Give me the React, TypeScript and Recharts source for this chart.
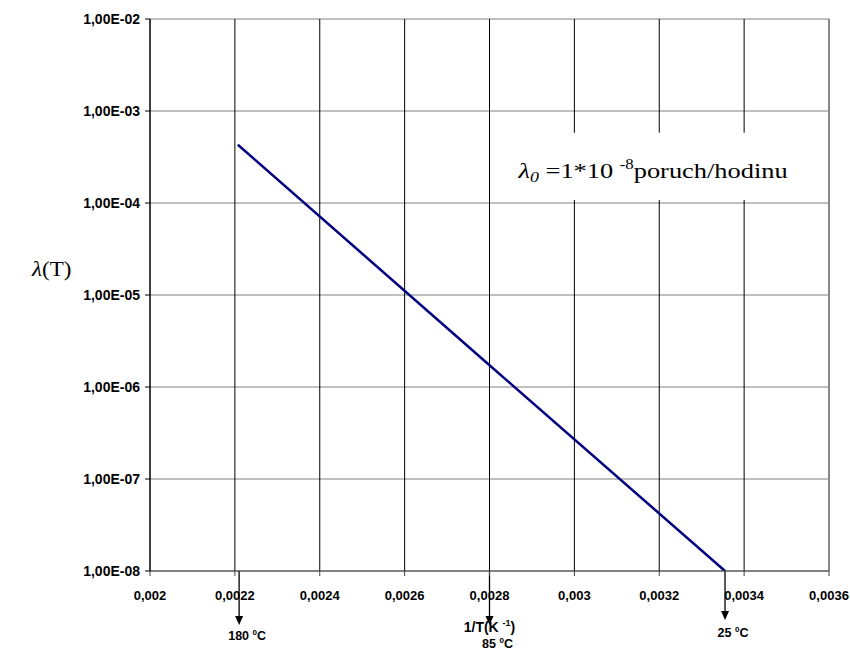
import React from 'react';
import {
  LineChart,
  Line,
  XAxis,
  YAxis,
  CartesianGrid,
  ReferenceArea,
  ReferenceLine,
} from 'recharts';

// ---- data ----
const invT = [0.002207, 0.002792, 0.003355]; // 1/T (K^-1)
const lambdaT = [4.3e-4, 1.86e-6, 1e-8]; // failure rate
const xTicks = [0.002, 0.0022, 0.0024, 0.0026, 0.0028, 0.003, 0.0032, 0.0034, 0.0036];
const yTicks = [1e-8, 1e-7, 1e-6, 1e-5, 1e-4, 1e-3, 1e-2];
const yTickLabels = ['1,00E-08', '1,00E-07', '1,00E-06', '1,00E-05', '1,00E-04', '1,00E-03', '1,00E-02'];
const markerX = [0.00221, 0.0028, 0.003355];
const markerTemps = ['180', '85', '25'];
const annotationBoxX = [0.00284, 0.00361];
const annotationBoxY = [1.08e-4, 5.8e-4];

const data = invT.map((x, i) => ({ x, y: lambdaT[i] }));

// ---- layout / style ----
const SANS = 'Arial, "Liberation Sans", sans-serif';
const SERIF = '"Times New Roman", "Liberation Serif", serif';
const markerLayout = [
  { tip: 54, base: 69 },
  { tip: 54, base: 77 },
  { tip: 49, base: 66 },
];

const xFmt = (v: number) => String(v).replace('.', ',');
const yFmt = (v: number) => {
  const i = yTicks.findIndex((t) => Math.abs(Math.log10(t) - Math.log10(v)) < 1e-6);
  return i >= 0 ? yTickLabels[i] : '';
};

const arrowShape = (i: number) => (props: any) => {
  const { x1, y1, y2 } = props;
  const bottom = Math.max(y1, y2);
  const L = markerLayout[i];
  const tip = bottom + L.tip;
  return (
    <g>
      <line x1={x1} y1={bottom} x2={x1} y2={tip - 8} stroke="#000" strokeWidth={1.3} />
      <polygon points={`${x1 - 4},${tip - 9} ${x1 + 4},${tip - 9} ${x1},${tip}`} fill="#000" />
      <text
        x={x1 + 8}
        y={bottom + L.base}
        textAnchor="middle"
        fontFamily={SANS}
        fontWeight="bold"
        fontSize={12.5}
        fill="#000"
      >
        {markerTemps[i] + ' '}
        <tspan fontSize={8} dy={-5}>0</tspan>
        <tspan dy={5}>C</tspan>
      </text>
    </g>
  );
};

const annotation = (props: any) => {
  const vb = props.viewBox || {};
  const x = (vb.x ?? 0) + 12;
  const y = (vb.y ?? 0) + 45;
  return (
    <text
      transform={`translate(${x},${y}) scale(1.2,1)`}
      x={0}
      y={0}
      fontFamily={SERIF}
      fontSize={22}
      fill="#000"
    >
      <tspan fontStyle="italic">λ</tspan>
      <tspan fontStyle="italic" fontSize={15} dy={4}>0</tspan>
      <tspan dy={-4}>{' =1*10 '}</tspan>
      <tspan fontSize={14} dy={-9}>-8</tspan>
      <tspan dy={9}>poruch/hodinu</tspan>
    </text>
  );
};

const yLabel = (props: any) => {
  const vb = props.viewBox || {};
  const x = (vb.x ?? 0) + 32;
  const y = (vb.y ?? 0) + 257;
  return (
    <text transform={`translate(${x},${y}) scale(1.15,1)`} x={0} y={0} fontFamily={SERIF} fontSize={20} fill="#000">
      <tspan fontStyle="italic">λ</tspan>
      <tspan>(T)</tspan>
    </text>
  );
};

const xLabel = (props: any) => {
  const vb = props.viewBox || {};
  const cx = (vb.x ?? 0) + (vb.width ?? 0) / 2;
  const y = (vb.y ?? 0) + 61;
  return (
    <text x={cx} y={y} textAnchor="middle" fontFamily={SANS} fontWeight="bold" fontSize={14} fill="#000">
      {'1/T(K '}
      <tspan fontSize={9} dy={-6}>-1</tspan>
      <tspan dy={6}>)</tspan>
    </text>
  );
};

export default function App() {
  return (
    <>
      <style>{'body{margin:0;overflow:hidden;background:#fff}'}</style>
      <LineChart
        width={850}
        height={650}
        data={data}
        margin={{ top: 19, right: 21, left: 0, bottom: 49 }}
      >
        <CartesianGrid vertical={false} stroke="#808080" strokeWidth={1} />
        <CartesianGrid horizontal={false} stroke="#000" strokeWidth={1} />
        <XAxis
          dataKey="x"
          type="number"
          domain={[0.002, 0.0036]}
          ticks={xTicks}
          allowDataOverflow
          height={30}
          tickSize={5}
          tickMargin={15}
          tickFormatter={xFmt}
          stroke="#444"
          tick={{ fontSize: 13, fontWeight: 'bold', fill: '#000', fontFamily: SANS }}
          label={{ content: xLabel }}
        />
        <YAxis
          dataKey="y"
          type="number"
          scale="log"
          domain={[1e-8, 1e-2]}
          ticks={yTicks}
          allowDataOverflow
          width={150}
          tickSize={5}
          tickMargin={5}
          tickFormatter={yFmt}
          stroke="#000"
          tick={{ fontSize: 14, fontWeight: 'bold', fill: '#000', fontFamily: SANS }}
          label={{ content: yLabel }}
        />
        <ReferenceLine x={0.0036} stroke="#888" strokeWidth={2} />
        <ReferenceArea
          x1={annotationBoxX[0]}
          x2={annotationBoxX[1]}
          y1={annotationBoxY[0]}
          y2={annotationBoxY[1]}
          fill="#fff"
          fillOpacity={1}
          stroke="none"
          ifOverflow="visible"
          label={annotation}
        />
        {markerX.map((mx, i) => (
          <ReferenceLine key={i} x={mx} stroke="none" shape={arrowShape(i)} />
        ))}
        <Line
          type="linear"
          dataKey="y"
          stroke="#000080"
          strokeWidth={2.5}
          dot={false}
          isAnimationActive={false}
        />
      </LineChart>
    </>
  );
}
